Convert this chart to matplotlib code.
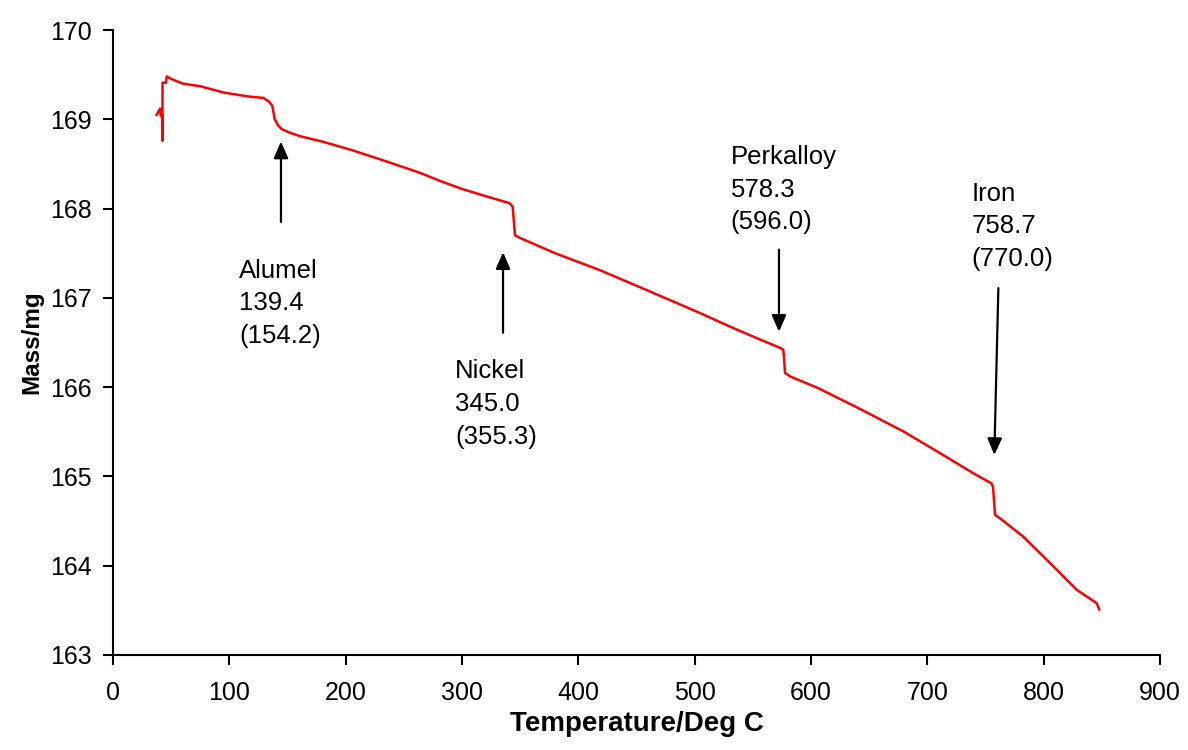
import matplotlib
matplotlib.use("Agg")
import matplotlib.pyplot as plt

plt.rcParams['font.family'] = ['Liberation Sans', 'DejaVu Sans']

# mass trace (temperature in deg C, mass in mg)
temperature = [37.5, 40.5, 41.0, 42.2, 42.4, 42.6, 45.5, 46.2, 50.4, 60, 75, 95, 109, 120,
               129, 134, 137, 139, 142, 145, 152, 161, 180, 204, 230, 264, 281, 300,
               320, 341, 343.6, 344.5, 345.6, 350, 380, 418.6, 460, 504.6, 530, 555,
               573.4, 576.2, 577.0, 577.7, 582, 606, 640, 680, 711, 739, 755.3, 756.5,
               757.5, 758.2, 762.5, 782, 805.5, 828.4, 845.6, 847.8]
mass = [169.05, 169.12, 169.04, 169.06, 168.76, 169.41, 169.41, 169.48, 169.45, 169.40,
        169.37, 169.30, 169.27, 169.25, 169.24, 169.20, 169.15, 169.00, 168.93, 168.89,
        168.85, 168.81, 168.75, 168.66, 168.55, 168.40, 168.31, 168.22, 168.14, 168.06,
        168.02, 167.87, 167.70, 167.67, 167.50, 167.31, 167.08, 166.83, 166.68, 166.54,
        166.44, 166.42, 166.30, 166.16, 166.12, 165.99, 165.77, 165.50, 165.26, 165.04,
        164.92, 164.88, 164.70, 164.57, 164.53, 164.33, 164.03, 163.73, 163.58, 163.51]

# annotations: label, arrow tail (T, M), arrow tip (T, M), text top-left (T, M)
labels = ["Alumel\n139.4\n(154.2)", "Nickel\n345.0\n(355.3)",
          "Perkalloy\n578.3\n(596.0)", "Iron\n758.7\n(770.0)"]
arrow_tail = [(144.4, 167.85), (335.3, 166.61), (572.5, 167.54), (761.1, 167.11)]
arrow_tip = [(144.4, 168.75), (335.3, 167.51), (572.5, 166.62), (757.6, 165.24)]
text_pos = [(108.6, 167.44), (294.0, 166.31), (531.0, 168.71), (738.1, 168.30)]

xticks = list(range(0, 901, 100))
yticks = list(range(163, 171))

fig = plt.figure(figsize=(11.88, 7.5), dpi=100)
ax = fig.add_axes([0.0951, 0.1267, 0.9764 - 0.0951, 0.96 - 0.1267])

ax.plot(temperature, mass, color='#ff0000', lw=1.8)

for lab, tail, tip, pos in zip(labels, arrow_tail, arrow_tip, text_pos):
    ax.annotate("", xy=tip, xytext=tail,
                arrowprops=dict(arrowstyle='-|>,head_length=0.5,head_width=0.22',
                                mutation_scale=20, lw=1.6, color='black',
                                shrinkA=0, shrinkB=0))
    ax.text(pos[0], pos[1], lab, ha='left', va='top', fontsize=18.5, linespacing=1.45)

ax.set_xlim(0, 900)
ax.set_ylim(163, 170)
ax.set_xticks(xticks)
ax.set_yticks(yticks)
ax.tick_params(labelsize=18, length=7, width=1.5, direction='out')
ax.tick_params(axis='x', pad=12)
ax.tick_params(axis='y', pad=8)

for side in ['top', 'right']:
    ax.spines[side].set_visible(False)
for side in ['left', 'bottom']:
    ax.spines[side].set_linewidth(1.5)

ax.set_xlabel("Temperature/Deg C", fontsize=20, fontweight='bold', labelpad=4)
ax.set_ylabel("Mass/mg", fontsize=17.5, fontweight='bold', labelpad=5)

fig.savefig("out.png", dpi=100)
